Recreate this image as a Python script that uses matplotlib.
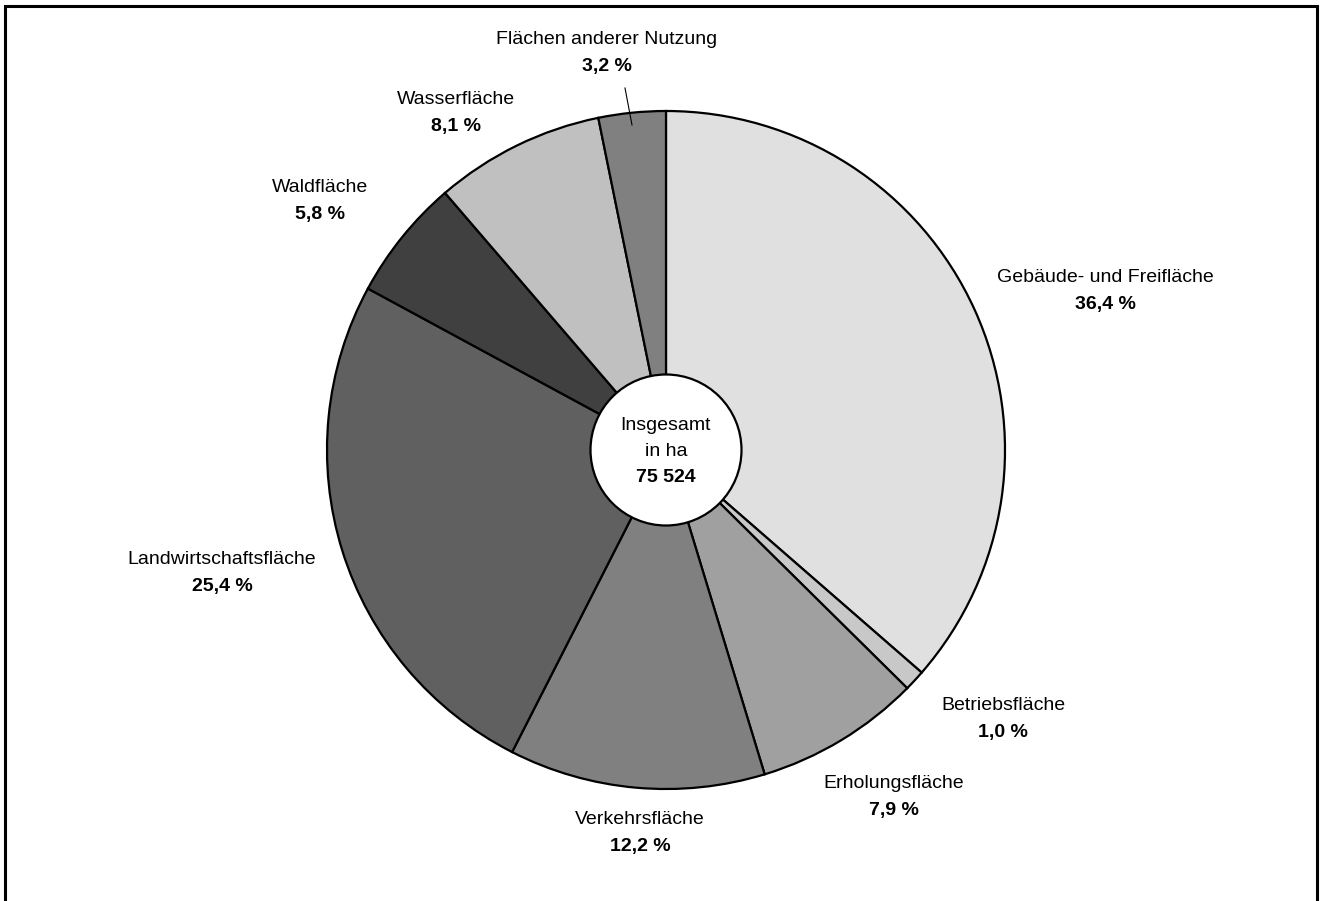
import matplotlib
matplotlib.use("Agg")
import matplotlib.pyplot as plt
from matplotlib.patches import Circle, Rectangle

categories = ["Gebäude- und Freifläche", "Betriebsfläche", "Erholungsfläche",
              "Verkehrsfläche", "Landwirtschaftsfläche", "Waldfläche",
              "Wasserfläche", "Flächen anderer Nutzung"]
shares = [36.4, 1.0, 7.9, 12.2, 25.4, 5.8, 8.1, 3.2]
colors = ["#e0e0e0", "#c8c8c8", "#a0a0a0", "#808080", "#606060", "#404040",
          "#c0c0c0", "#808080"]
pct_labels = ["36,4 %", "1,0 %", "7,9 %", "12,2 %", "25,4 %", "5,8 %", "8,1 %", "3,2 %"]
total_label = "75 524"

# label anchor positions (pixel coords, top-left origin)
label_pos = [(1105, 278), (1003, 706), (894, 784), (640, 820), (222, 560),
             (320, 188), (456, 100), (607, 40)]

W, H = 1322, 901
fig = plt.figure(figsize=(W / 100, H / 100), dpi=100)
ax = fig.add_axes([0, 0, 1, 1])
ax.set_xlim(0, W)
ax.set_ylim(0, H)
ax.set_aspect("equal")
ax.axis("off")

FONT = ["Liberation Sans Narrow", "Liberation Sans", "DejaVu Sans"]
FS = 14

cx, cy, r = 666, H - 450, 339
ax.pie(shares, colors=colors, startangle=90, counterclock=False,
       center=(cx, cy), radius=r, frame=True,
       wedgeprops=dict(edgecolor="black", linewidth=1.6))
ax.set_xlim(0, W)
ax.set_ylim(0, H)
ax.axis("off")

ax.add_patch(Circle((cx, cy), 75.5, facecolor="white", edgecolor="black",
                    linewidth=1.6, zorder=5))
ax.text(cx, H - 425, "Insgesamt", ha="center", va="center", fontsize=FS,
        family=FONT, zorder=6)
ax.text(cx, H - 451, "in ha", ha="center", va="center", fontsize=FS,
        family=FONT, zorder=6)
ax.text(cx, H - 477, total_label, ha="center", va="center", fontsize=FS,
        family=FONT, fontweight="bold", zorder=6)

for name, pct, (lx, ly) in zip(categories, pct_labels, label_pos):
    ax.text(lx, H - ly, name, ha="center", va="center", fontsize=FS, family=FONT)
    ax.text(lx, H - ly - 26, pct, ha="center", va="center", fontsize=FS,
            family=FONT, fontweight="bold")

# leader line for small slice
ax.plot([625, 632], [H - 88, H - 125], color="black", linewidth=0.8)

# outer frame (open at bottom)
ax.add_patch(Rectangle((5, -10), 1312, H - 6 + 10, fill=False,
                       edgecolor="black", linewidth=2.2, zorder=10))

fig.savefig("out.png", dpi=100)
